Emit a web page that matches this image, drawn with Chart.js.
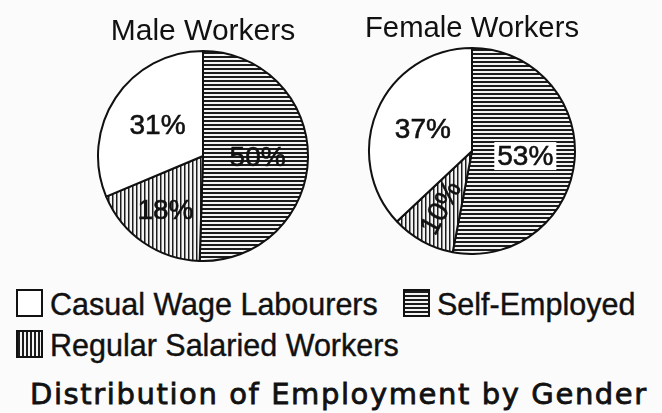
<!DOCTYPE html>
<html>
<head>
<meta charset="utf-8">
<script src="https://cdn.jsdelivr.net/npm/chart.js@4"></script>
<style>
  body { margin: 0; background: #fbfbfb; }
  #wrap { position: relative; width: 662px; height: 413px; background: #fbfbfb; overflow: hidden; }
  .pie { position: absolute; }
  .legend { position: absolute; font-family: "Liberation Sans", Arial, sans-serif; font-size: 30.5px; color: #111; white-space: nowrap; line-height: 1; -webkit-text-stroke: 0.4px #111; }
  .sw { position: absolute; width: 23px; height: 24px; border: 2px solid #111; }
  .sw.casual { background: #fff; }
  .sw.self { background: repeating-linear-gradient(to bottom, #1c1c1c 0 2px, #f4f4f4 2px 4px); }
  .sw.reg { background: repeating-linear-gradient(to right, #1c1c1c 0 2px, #f4f4f4 2px 4px); }
  #title { position: absolute; left: 30px; top: 377px; font-family: "DejaVu Sans", sans-serif; font-size: 29px; letter-spacing: 1.6px; color: #111; white-space: nowrap; -webkit-text-stroke: 0.8px #111; }
</style>
</head>
<body>
<div id="wrap">
  <canvas id="male" class="pie" style="left:96px;top:0px;width:214px;height:262px"></canvas>
  <canvas id="female" class="pie" style="left:365px;top:-3px;width:214px;height:258px"></canvas>
  <div class="sw casual" style="left:16px;top:289px"></div>
  <div class="legend" style="left:50px;top:289px">Casual Wage Labourers</div>
  <div class="sw self" style="left:403px;top:289px"></div>
  <div class="legend" style="left:437px;top:289px">Self-Employed</div>
  <div class="sw reg" style="left:16px;top:330px"></div>
  <div class="legend" style="left:50px;top:330px">Regular Salaried Workers</div>
  <div id="title">Distribution of Employment by Gender</div>
</div>
<script>
// slices in drawing order, clockwise from 12 o'clock
const categories = ['Self-Employed', 'Regular Salaried Workers', 'Casual Wage Labourers'];
const maleValues = [50, 18, 31];
const femaleValues = [53, 10, 37];
const chartTitles = ['Male Workers', 'Female Workers'];

function makePattern(kind) {
  const c = document.createElement('canvas');
  c.width = 4; c.height = 4;
  const g = c.getContext('2d');
  g.fillStyle = '#f4f4f4';
  g.fillRect(0, 0, 4, 4);
  g.fillStyle = '#1c1c1c';
  if (kind === 'h') g.fillRect(0, 0, 4, 2);
  else { g.fillRect(0, 0, 1, 4); g.fillStyle = '#8a8a8a'; g.fillRect(1, 0, 1, 4); }
  return g.createPattern(c, 'repeat');
}

const fills = [makePattern('h'), makePattern('v'), '#ffffff'];

// percentage labels drawn inside the slices
const pctLabels = {
  id: 'pctLabels',
  afterDatasetsDraw(chart, args, opts) {
    const ctx = chart.ctx;
    const meta = chart.getDatasetMeta(0);
    const vals = chart.data.datasets[0].data;
    meta.data.forEach((arc, i) => {
      const p = arc.getProps(['x', 'y', 'startAngle', 'endAngle', 'outerRadius'], true);
      const mid = (p.startAngle + p.endAngle) / 2;
      const frac = (p.endAngle - p.startAngle) / (2 * Math.PI);
      const d = p.outerRadius * (frac < 0.25 ? 0.63 : 0.52);
      ctx.save();
      ctx.translate(p.x + Math.cos(mid) * d, p.y + Math.sin(mid) * d);
      if (frac < 0.15) ctx.rotate(mid + Math.PI);
      ctx.font = '28px "Liberation Sans", Arial, sans-serif';
      ctx.textAlign = 'center';
      ctx.textBaseline = 'middle';
      const txt = vals[i] + '%';
      if (opts.boxed && opts.boxed.includes(i)) {
        const w = ctx.measureText(txt).width;
        ctx.fillStyle = '#ffffff';
        ctx.fillRect(-w / 2 - 3, -14, w + 6, 28);
      }
      ctx.fillStyle = '#111';
      ctx.strokeStyle = '#111';
      ctx.lineWidth = 0.6;
      ctx.fillText(txt, 0, 1);
      ctx.strokeText(txt, 0, 1);
      ctx.restore();
    });
  }
};

function makePie(id, title, values, boxed) {
  return new Chart(document.getElementById(id), {
    type: 'pie',
    data: {
      labels: categories,
      datasets: [{
        data: values,
        backgroundColor: fills,
        borderColor: '#111',
        borderWidth: 2
      }]
    },
    options: {
      responsive: false,
      animation: false,
      layout: { padding: 0 },
      plugins: {
        legend: { display: false },
        tooltip: { enabled: false },
        title: {
          display: true,
          text: title,
          color: '#111',
          font: { family: '"Liberation Sans", Arial, sans-serif', size: 30, weight: 'normal' },
          padding: { top: 14, bottom: 0 }
        },
        pctLabels: { boxed: boxed }
      }
    },
    plugins: [pctLabels]
  });
}

makePie('male', chartTitles[0], maleValues, []);
makePie('female', chartTitles[1], femaleValues, [0]);
</script>
</body>
</html>
